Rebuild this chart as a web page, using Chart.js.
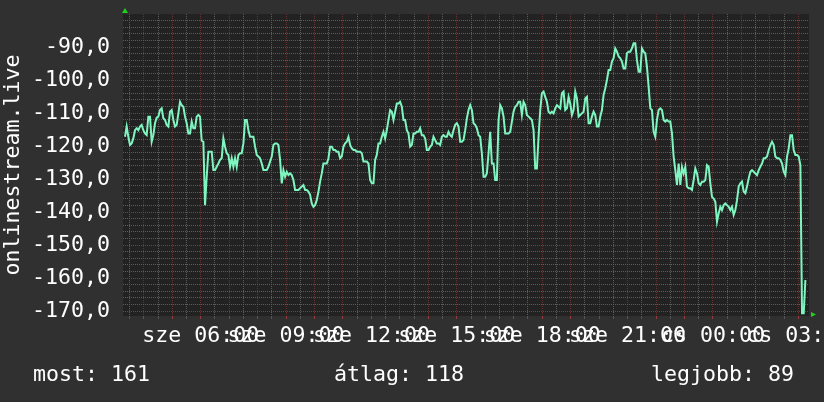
<!DOCTYPE html>
<html>
<head>
<meta charset="utf-8">
<script src="https://cdn.jsdelivr.net/npm/chart.js@4.4.1/dist/chart.umd.min.js"></script>
<style>
  html, body { margin: 0; padding: 0; background: #303030; }
  canvas { display: block; }
</style>
</head>
<body>
<canvas id="chart" width="824" height="402"></canvas>
<script>
// one sample every ~3.5 minutes, starting at about 03:20 on Wednesday
const startHour = 3.34;
const stepHours = 0.0586;

const signalLevel = [
  -117.2,-114.1,-117.2,-119.7,-119.2,-117.7,-115.2,-114.6,-115.2,-114.1,
  -113.6,-115.2,-116.2,-116.7,-111.1,-111.1,-118.7,-116.7,-113.1,-111.4,
  -111.1,-109.1,-108.6,-111.6,-112.1,-113.6,-114.1,-109.6,-109.1,-112.1,
  -114.1,-113.6,-110.1,-106.6,-107.6,-108.1,-111.1,-113.1,-116.2,-116.2,
  -112.6,-114.6,-114.6,-111.1,-110.6,-111.1,-118.4,-118.7,-137.9,-129.3,
  -121.7,-121.7,-121.7,-127.3,-127.3,-126.3,-125.3,-124.2,-123.7,-117.7,
  -120.2,-122.2,-122.7,-126.3,-123.7,-126.3,-123.7,-126.3,-122.7,-122.2,
  -122.2,-119.2,-112.1,-112.1,-115.2,-117.2,-117.2,-117.2,-120.2,-122.7,
  -123.2,-123.7,-125.3,-127.3,-127.3,-127.3,-126.3,-124.7,-123.2,-119.7,
  -119.2,-119.2,-119.7,-124.2,-131.3,-127.3,-129.3,-127.8,-128.8,-128.3,
  -128.8,-130.3,-133.3,-133.3,-133.3,-132.8,-132.3,-131.8,-133.3,-133.3,
  -133.8,-134.8,-137.4,-138.4,-137.9,-136.4,-133.8,-130.8,-128.3,-125.3,
  -125.3,-125.3,-123.7,-120.2,-120.2,-121.2,-121.2,-121.7,-121.7,-123.7,
  -123.2,-120.2,-119.2,-118.7,-117.2,-119.7,-120.7,-121.2,-121.2,-121.7,
  -121.7,-121.7,-122.2,-124.7,-124.7,-124.7,-125.3,-130.3,-131.3,-131.3,
  -124.2,-122.7,-119.2,-119.2,-117.2,-115.7,-117.7,-115.2,-112.1,-109.1,
  -109.6,-112.1,-109.6,-107.1,-107.1,-106.6,-108.1,-112.1,-112.1,-115.2,
  -116.2,-120.2,-119.7,-116.2,-116.2,-115.7,-115.7,-114.6,-116.7,-116.7,
  -117.7,-121.2,-121.2,-120.2,-119.7,-117.2,-118.2,-119.2,-119.2,-119.7,
  -117.2,-116.7,-117.2,-117.2,-115.7,-116.7,-117.2,-115.2,-113.6,-113.1,
  -114.1,-118.7,-118.7,-118.2,-115.2,-111.6,-109.1,-107.6,-109.1,-113.1,
  -113.6,-114.6,-116.7,-117.2,-122.2,-129.3,-129.3,-128.3,-122.2,-115.7,
  -125.3,-125.3,-130.3,-130.3,-112.1,-107.6,-108.6,-111.1,-116.2,-116.2,
  -116.2,-115.7,-112.6,-109.6,-108.1,-107.6,-106.6,-106.6,-110.6,-106.6,
  -107.6,-110.6,-111.1,-111.6,-112.1,-115.2,-126.8,-126.8,-117.2,-109.1,
  -104.0,-103.5,-105.1,-106.6,-109.6,-110.1,-109.6,-110.1,-108.6,-107.6,
  -108.1,-108.6,-104.0,-103.5,-109.1,-108.6,-105.1,-107.1,-110.6,-109.1,
  -103.5,-105.6,-111.1,-110.6,-110.1,-109.6,-105.6,-105.1,-113.1,-113.1,
  -111.1,-109.6,-110.6,-114.1,-114.1,-111.1,-109.1,-104.5,-102.5,-100.0,
  -97.0,-97.0,-94.4,-93.4,-90.4,-91.4,-92.9,-93.4,-94.4,-96.5,
  -96.5,-91.9,-91.4,-91.4,-90.4,-88.9,-88.9,-93.9,-97.5,-97.5,
  -90.4,-91.4,-91.9,-96.0,-102.0,-108.6,-109.1,-115.7,-117.2,-112.1,
  -109.1,-108.6,
  -109.1,-112.1,-112.6,-112.1,-112.6,-112.6,-116.2,-123.2,-127.3,-131.8,
  -125.3,-131.8,-126.3,-128.3,-126.3,-132.3,-132.8,-132.8,-133.3,-130.3,
  -126.8,-128.3,-131.3,-131.8,-130.8,-130.8,-130.3,-125.8,-126.3,-131.3,
  -135.4,-135.9,-136.9,-142.9,-140.4,-138.4,-139.4,-137.9,-137.4,-137.9,
  -138.4,-139.4,-138.4,-140.9,-139.4,-136.4,-132.3,-131.3,-130.8,-133.8,
  -134.3,-132.3,-129.8,-127.8,-127.3,-127.8,-128.3,-128.8,-127.3,-126.3,
  -125.3,-123.7,-123.7,-123.2,-121.2,-119.7,-118.7,-119.7,-123.2,-123.7,
  -123.7,-124.2,-125.3,-127.8,-128.8,-123.2,-120.7,-116.7,-116.7,-121.2,
  -122.7,-122.7,-123.2,-125.8,-170.7,-170.7,-160.6
];

const xTickHours = [6, 9, 12, 15, 18, 21, 24, 27];
const xTickLabels = ["sze 06:00", "sze 09:00", "sze 12:00", "sze 15:00",
  "sze 18:00", "sze 21:00", "cs 00:00", "cs 03:00"];
const yTickValues = [-90, -100, -110, -120, -130, -140, -150, -160, -170];
const summaryLabels = ["most: 161", "átlag: 118", "legjobb: 89"];

const FONT = "'DejaVu Sans Mono', monospace";
const FONT_SIZE = 21.6;
const MINOR = "#5c5c5c";
const MAJOR_Y = "#8e3636";
const MAJOR_X = "#6a3030";

const points = signalLevel.map((v, i) => ({ x: startHour + i * stepHours, y: v }));

const backdrop = {
  id: "backdrop",
  beforeDraw(chart) {
    const { ctx, chartArea: a } = chart;
    ctx.save();
    ctx.fillStyle = "#303030";
    ctx.fillRect(0, 0, chart.width, chart.height);
    ctx.fillStyle = "#222222";
    ctx.fillRect(a.left, a.top, a.right - a.left, a.bottom - a.top);
    ctx.restore();
  },
  afterDraw(chart) {
    const { ctx, chartArea: a } = chart;
    ctx.save();
    // axis arrows
    ctx.fillStyle = "#1fd01f";
    ctx.beginPath();
    ctx.moveTo(a.left - 1, a.top - 1);
    ctx.lineTo(a.left + 5, a.top - 1);
    ctx.lineTo(a.left + 2, a.top - 6);
    ctx.closePath();
    ctx.fill();
    ctx.beginPath();
    ctx.moveTo(a.right + 2, a.bottom - 4);
    ctx.lineTo(a.right + 2, a.bottom + 1);
    ctx.lineTo(a.right + 7, a.bottom - 1.5);
    ctx.closePath();
    ctx.fill();
    // summary line
    ctx.fillStyle = "#ffffff";
    ctx.font = FONT_SIZE + "px " + FONT;
    ctx.textBaseline = "alphabetic";
    const xs = [33, 334, 651];
    summaryLabels.forEach((t, i) => ctx.fillText(t, xs[i], 381));
    ctx.restore();
  }
};

new Chart(document.getElementById("chart"), {
  type: "line",
  data: {
    datasets: [{
      data: points,
      borderColor: "#7ff5c0",
      borderWidth: 2,
      pointRadius: 0,
      tension: 0,
      fill: false
    }]
  },
  options: {
    responsive: false,
    animation: false,
    events: [],
    layout: { padding: { left: 0, right: 15, top: 14, bottom: 0 } },
    plugins: { legend: { display: false }, tooltip: { enabled: false } },
    scales: {
      x: {
        type: "linear",
        min: 3.27,
        max: 27.376,
        afterBuildTicks(scale) {
          const t = [];
          for (let h = 3.5; h <= 27.25; h += 0.5) t.push({ value: h });
          scale.ticks = t;
        },
        afterFit(scale) {
          scale.height = 86;
          scale.paddingLeft = 0;
          scale.paddingRight = 0;
        },
        ticks: {
          autoSkip: false,
          maxRotation: 0,
          minRotation: 0,
          padding: 4,
          color: "#ffffff",
          font: { family: FONT, size: FONT_SIZE },
          callback: (v) => {
            const i = xTickHours.indexOf(v);
            return i >= 0 ? xTickLabels[i] : "";
          }
        },
        grid: {
          color: (c) => (c.tick && Number.isInteger(c.tick.value) ? MAJOR_X : MINOR),
          tickColor: (c) => (c.tick && Number.isInteger(c.tick.value) ? "#9a3c3c" : "#555555"),
          lineWidth: 1,
          drawTicks: true,
          tickLength: 3
        },
        border: { display: false, dash: [1, 1] }
      },
      y: {
        min: -171.5,
        max: -80,
        afterBuildTicks(scale) {
          const t = [];
          for (let v = -170; v <= -82; v += 2) t.push({ value: v });
          scale.ticks = t;
        },
        afterFit(scale) {
          scale.width = 123;
          scale.paddingTop = 0;
          scale.paddingBottom = 0;
        },
        title: {
          display: true,
          text: "onlinestream.live",
          color: "#ffffff",
          font: { family: FONT, size: FONT_SIZE },
          padding: 0
        },
        ticks: {
          autoSkip: false,
          padding: 13,
          color: "#ffffff",
          font: { family: FONT, size: FONT_SIZE },
          callback: (v) => (yTickValues.includes(v) ? v.toFixed(1).replace(".", ",") : "")
        },
        grid: {
          color: (c) => (c.tick && c.tick.value % 10 === 0 ? MAJOR_Y : MINOR),
          lineWidth: 1,
          drawTicks: false
        },
        border: { display: false, dash: [1, 1] }
      }
    }
  },
  plugins: [backdrop]
});
</script>
</body>
</html>
